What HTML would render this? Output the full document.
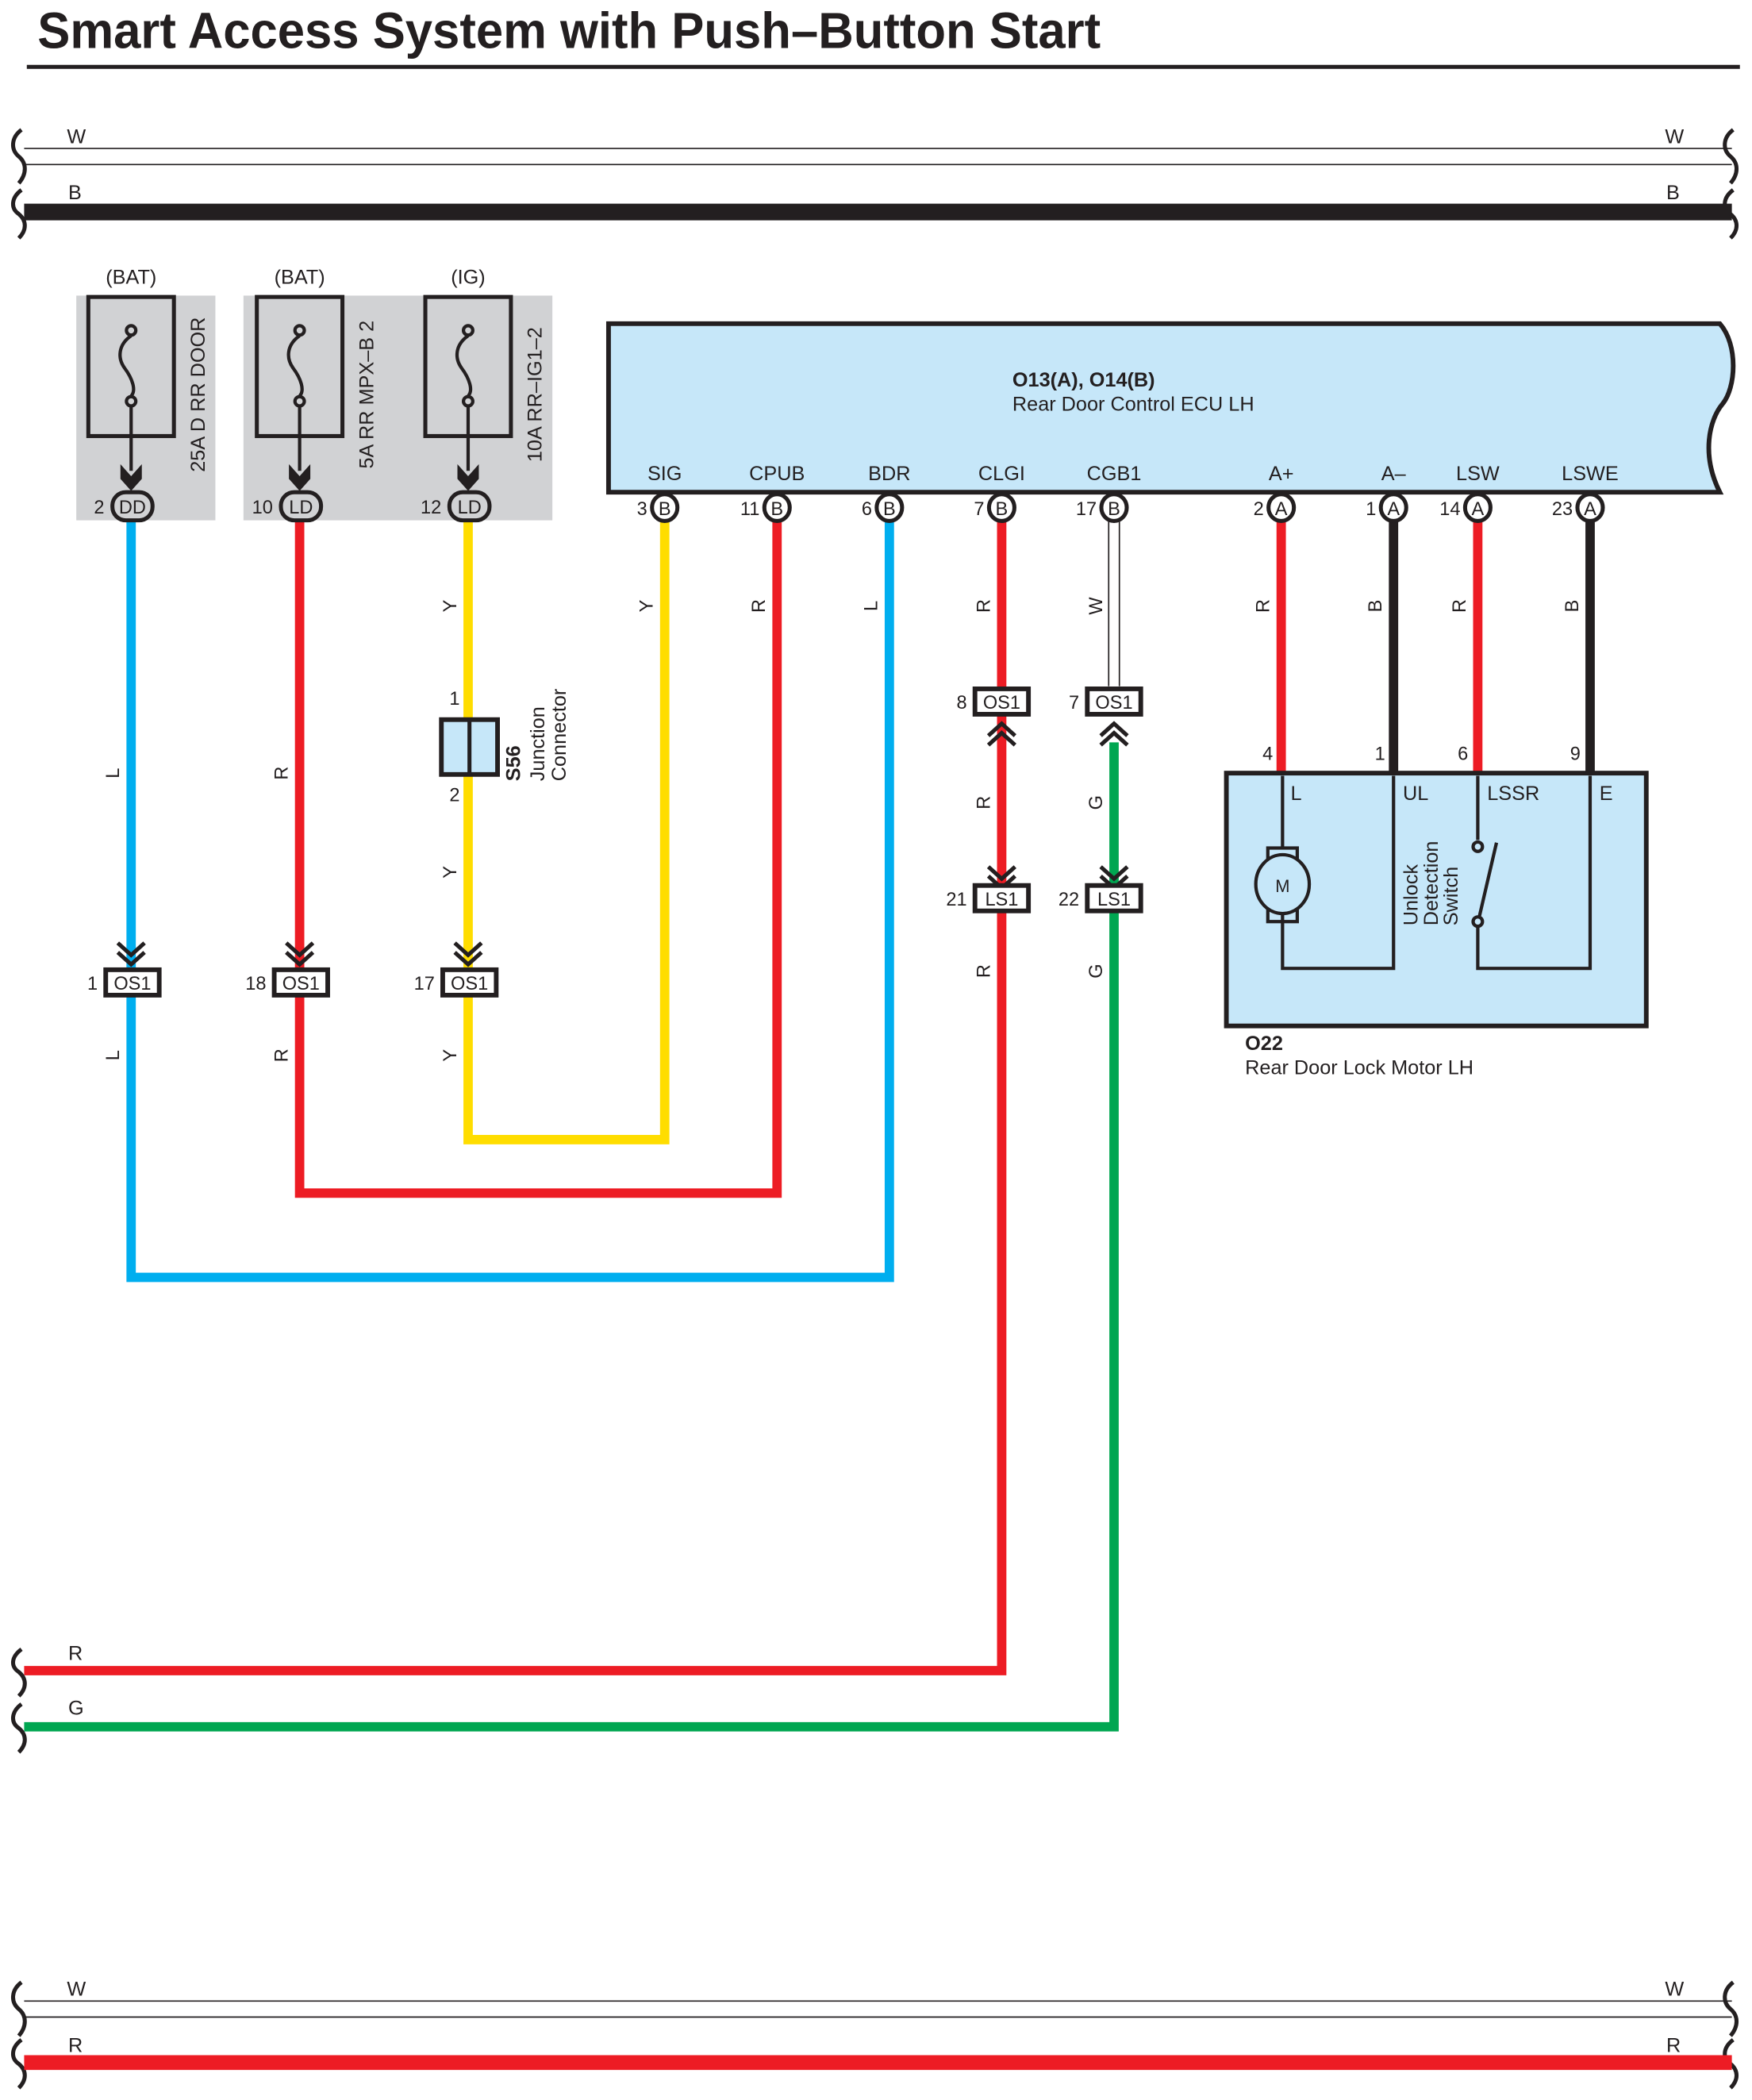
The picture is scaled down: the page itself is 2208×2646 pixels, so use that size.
<!DOCTYPE html>
<html><head><meta charset="utf-8"><style>
html,body{margin:0;padding:0;background:#fff}
svg{display:block}
text{font-family:"Liberation Sans Narrow","Liberation Sans",sans-serif;fill:#231f20}
</style></head><body>
<svg width="2208" height="2646" viewBox="0 0 1310 1570" xmlns="http://www.w3.org/2000/svg">
<rect width="1310" height="1570" fill="#fff"/>
<text x="28" y="36" font-size="38" font-weight="bold" font-family="Liberation Sans, sans-serif" textLength="795" lengthAdjust="spacingAndGlyphs">Smart Access System with Push–Button Start</text>
<rect x="20" y="48.5" width="1281" height="3" fill="#231f20"/>

<!-- top buses -->
<g stroke="#231f20" fill="none">
<line x1="18" y1="111" x2="1295" y2="111" stroke-width="1"/>
<line x1="18" y1="123" x2="1295" y2="123" stroke-width="1"/>
<line x1="18" y1="158.5" x2="1295" y2="158.5" stroke-width="12.5"/>
<path d="M16,97 C8,103 8,112 14,117 C20,122 20,130 14,137" stroke-width="3"/>
<path d="M16,142 C8,148 8,156 14,160 C20,165 20,172 14,178" stroke-width="3"/>
<path d="M1296,97 C1288,103 1288,112 1294,117 C1300,122 1300,130 1294,137" stroke-width="3"/>
<path d="M1296,142 C1288,148 1288,156 1294,160 C1300,165 1300,172 1294,178" stroke-width="3"/>
</g>
<g font-size="15">
<text x="50" y="107">W</text><text x="1245" y="107">W</text>
<text x="51" y="149">B</text><text x="1246" y="149">B</text>
</g>

<!-- fuse block backgrounds -->
<rect x="57" y="221" width="104" height="168" fill="#d1d2d4"/>
<rect x="182" y="221" width="231" height="168" fill="#d1d2d4"/>
<g font-size="15" text-anchor="middle">
<text x="98" y="212">(BAT)</text><text x="224" y="212">(BAT)</text><text x="350" y="212">(IG)</text>
</g>
<g stroke="#231f20" fill="none" stroke-width="3">
<rect x="66" y="222" width="64" height="104"/>
<rect x="192" y="222" width="64" height="104"/>
<rect x="318" y="222" width="64" height="104"/>
</g>
<g id="fz" stroke="#231f20" fill="none" stroke-width="2.5">
<circle cx="98" cy="247" r="3.5"/>
<path d="M98,251 C88,258 88,268 93,275 C99,283 102,292 98,296"/>
<circle cx="98" cy="300" r="3.5"/>
<line x1="98" y1="304" x2="98" y2="352"/>
</g>
<use href="#fz" x="126"/><use href="#fz" x="252"/>
<g fill="#231f20">
<path d="M90,347 L98,356 L106,347 L106,358 L98,367 L90,358Z"/>
<path d="M216,347 L224,356 L232,347 L232,358 L224,367 L216,358Z"/>
<path d="M342,347 L350,356 L358,347 L358,358 L350,367 L342,358Z"/>
</g>
<g font-size="15" text-anchor="middle">
<text transform="translate(153,295) rotate(-90)">25A D RR DOOR</text>
<text transform="translate(279,295) rotate(-90)">5A RR MPX–B 2</text>
<text transform="translate(405,295) rotate(-90)">10A RR–IG1–2</text>
</g>

<!-- ECU -->
<path d="M455,242 L1286,242 C1300,258 1298,290 1288,302 C1278,314 1272,340 1286,368 L455,368 Z" fill="#c6e7f9" stroke="#231f20" stroke-width="3.5"/>
<text x="757" y="289" font-size="15" font-weight="bold">O13(A), O14(B)</text>
<text x="757" y="307" font-size="15">Rear Door Control ECU LH</text>
<g font-size="15" text-anchor="middle">
<text x="497" y="359">SIG</text><text x="581" y="359">CPUB</text><text x="665" y="359">BDR</text>
<text x="749" y="359">CLGI</text><text x="833" y="359">CGB1</text><text x="958" y="359">A+</text>
<text x="1042" y="359">A–</text><text x="1105" y="359">LSW</text><text x="1189" y="359">LSWE</text>
</g>

<!-- wires -->
<g fill="none" stroke-width="7" stroke-linejoin="miter">
<polyline points="98,389 98,955 665,955 665,389" stroke="#00aeef"/>
<polyline points="224,389 224,892 581,892 581,389" stroke="#ed1c24"/>
<polyline points="350,389 350,852 497,852 497,389" stroke="#ffdd00"/>
<polyline points="749,389 749,1249 18,1249" stroke="#ed1c24"/>
<polyline points="833,555 833,1291 18,1291" stroke="#00a651"/>
<line x1="958" y1="389" x2="958" y2="578" stroke="#ed1c24"/>
<line x1="1042" y1="389" x2="1042" y2="578" stroke="#231f20"/>
<line x1="1105" y1="389" x2="1105" y2="578" stroke="#ed1c24"/>
<line x1="1189" y1="389" x2="1189" y2="578" stroke="#231f20"/>
</g>
<g stroke="#231f20" stroke-width="1">
<line x1="829" y1="389" x2="829" y2="513"/><line x1="837" y1="389" x2="837" y2="513"/>
</g>

<!-- fuse-side connectors -->
<g stroke="#231f20" stroke-width="3" fill="#d1d2d4">
<rect x="84" y="368" width="30" height="21" rx="10"/>
<rect x="210" y="368" width="30" height="21" rx="10"/>
<rect x="336" y="368" width="30" height="21" rx="10"/>
</g>
<g font-size="14" text-anchor="middle">
<text x="99" y="384">DD</text><text x="225" y="384">LD</text><text x="351" y="384">LD</text>
</g>
<g font-size="14" text-anchor="end">
<text x="78" y="384">2</text><text x="204" y="384">10</text><text x="330" y="384">12</text>
</g>

<!-- ECU pin circles -->
<g stroke="#231f20" stroke-width="3" fill="#fff">
<ellipse cx="497" cy="379.5" rx="9.5" ry="10"/><ellipse cx="581" cy="379.5" rx="9.5" ry="10"/>
<ellipse cx="665" cy="379.5" rx="9.5" ry="10"/><ellipse cx="749" cy="379.5" rx="9.5" ry="10"/>
<ellipse cx="833" cy="379.5" rx="9.5" ry="10"/><ellipse cx="958" cy="379.5" rx="9.5" ry="10"/>
<ellipse cx="1042" cy="379.5" rx="9.5" ry="10"/><ellipse cx="1105" cy="379.5" rx="9.5" ry="10"/>
<ellipse cx="1189" cy="379.5" rx="9.5" ry="10"/>
</g>
<g font-size="14" text-anchor="middle">
<text x="497" y="385">B</text><text x="581" y="385">B</text><text x="665" y="385">B</text><text x="749" y="385">B</text>
<text x="833" y="385">B</text><text x="958" y="385">A</text><text x="1042" y="385">A</text><text x="1105" y="385">A</text><text x="1189" y="385">A</text>
</g>
<g font-size="14" text-anchor="end">
<text x="484" y="385">3</text><text x="568" y="385">11</text><text x="652" y="385">6</text><text x="736" y="385">7</text>
<text x="820" y="385">17</text><text x="945" y="385">2</text><text x="1029" y="385">1</text><text x="1092" y="385">14</text><text x="1176" y="385">23</text>
</g>

<!-- junction connector S56 -->
<rect x="330" y="538" width="42" height="41" fill="#c6e7f9" stroke="#231f20" stroke-width="3.5"/>
<line x1="351" y1="538" x2="351" y2="579" stroke="#231f20" stroke-width="3"/>
<g font-size="14"><text x="336" y="527">1</text><text x="336" y="599">2</text></g>
<text transform="translate(389,584) rotate(-90)" font-size="15" font-weight="bold">S56</text>
<text transform="translate(407,584) rotate(-90)" font-size="15">Junction</text>
<text transform="translate(423,584) rotate(-90)" font-size="15">Connector</text>

<!-- chevrons -->
<g fill="none" stroke="#231f20" stroke-width="3">
<path d="M88,705 L98,714 L108,705 M88,712 L98,721 L108,712"/>
<path d="M214,705 L224,714 L234,705 M214,712 L224,721 L234,712"/>
<path d="M340,705 L350,714 L360,705 M340,712 L350,721 L360,712"/>
<path d="M739,648 L749,657 L759,648 M739,655 L749,664 L759,655"/>
<path d="M823,648 L833,657 L843,648 M823,655 L833,664 L843,655"/>
<path d="M739,550 L749,541 L759,550 M739,557 L749,548 L759,557"/>
<path d="M823,550 L833,541 L843,550 M823,557 L833,548 L843,557"/>
</g>

<!-- inline connector boxes -->
<g stroke="#231f20" stroke-width="3.5" fill="#fff">
<rect x="79" y="725" width="40" height="19"/><rect x="205" y="725" width="40" height="19"/><rect x="331" y="725" width="40" height="19"/>
<rect x="729" y="515" width="40" height="19"/><rect x="813" y="515" width="40" height="19"/>
<rect x="729" y="662" width="40" height="19"/><rect x="813" y="662" width="40" height="19"/>
</g>
<g font-size="14" text-anchor="middle">
<text x="99" y="740">OS1</text><text x="225" y="740">OS1</text><text x="351" y="740">OS1</text>
<text x="749" y="530">OS1</text><text x="833" y="530">OS1</text>
<text x="749" y="677">LS1</text><text x="833" y="677">LS1</text>
</g>
<g font-size="14" text-anchor="end">
<text x="73" y="740">1</text><text x="199" y="740">18</text><text x="325" y="740">17</text>
<text x="723" y="530">8</text><text x="807" y="530">7</text>
<text x="723" y="677">21</text><text x="807" y="677">22</text>
</g>

<!-- wire color labels -->
<g font-size="14" text-anchor="middle">
<text transform="translate(89,578) rotate(-90)">L</text>
<text transform="translate(89,789) rotate(-90)">L</text>
<text transform="translate(215,578) rotate(-90)">R</text>
<text transform="translate(215,789) rotate(-90)">R</text>
<text transform="translate(341,453) rotate(-90)">Y</text>
<text transform="translate(341,652) rotate(-90)">Y</text>
<text transform="translate(341,789) rotate(-90)">Y</text>
<text transform="translate(488,453) rotate(-90)">Y</text>
<text transform="translate(572,453) rotate(-90)">R</text>
<text transform="translate(656,453) rotate(-90)">L</text>
<text transform="translate(740,453) rotate(-90)">R</text>
<text transform="translate(824,453) rotate(-90)">W</text>
<text transform="translate(740,600) rotate(-90)">R</text>
<text transform="translate(824,600) rotate(-90)">G</text>
<text transform="translate(740,726) rotate(-90)">R</text>
<text transform="translate(824,726) rotate(-90)">G</text>
<text transform="translate(949,453) rotate(-90)">R</text>
<text transform="translate(1033,453) rotate(-90)">B</text>
<text transform="translate(1096,453) rotate(-90)">R</text>
<text transform="translate(1180,453) rotate(-90)">B</text>
</g>

<!-- O22 -->
<rect x="917" y="578" width="314" height="189" fill="#c6e7f9" stroke="#231f20" stroke-width="3.5"/>
<g font-size="14"><text x="944" y="568">4</text><text x="1028" y="568">1</text><text x="1090" y="568">6</text><text x="1174" y="568">9</text></g>
<g font-size="15"><text x="965" y="598">L</text><text x="1049" y="598">UL</text><text x="1112" y="598">LSSR</text><text x="1196" y="598">E</text></g>
<g fill="none" stroke="#231f20" stroke-width="2.5">
<polyline points="959,580 959,634"/>
<polyline points="959,684 959,724 1042,724 1042,580"/>
<rect x="948" y="634" width="22" height="9"/>
<rect x="948" y="680" width="22" height="9"/>
<ellipse cx="959" cy="661" rx="20" ry="22" fill="#c6e7f9"/>
<polyline points="1105,580 1105,628"/>
<circle cx="1105" cy="633" r="3.5"/>
<line x1="1106" y1="686" x2="1119" y2="630"/>
<circle cx="1105" cy="689" r="3.5"/>
<polyline points="1105,693 1105,724 1189,724 1189,580"/>
</g>
<text x="959" y="667" font-size="13" text-anchor="middle">M</text>
<text transform="translate(1060,692) rotate(-90)" font-size="15">Unlock</text>
<text transform="translate(1075,692) rotate(-90)" font-size="15">Detection</text>
<text transform="translate(1090,692) rotate(-90)" font-size="15">Switch</text>
<text x="931" y="785" font-size="15" font-weight="bold">O22</text>
<text x="931" y="803" font-size="15">Rear Door Lock Motor LH</text>

<!-- R/G left brackets -->
<g stroke="#231f20" fill="none" stroke-width="3">
<path d="M16,1233 C8,1239 8,1246 14,1250 C20,1255 20,1262 14,1268"/>
<path d="M16,1274 C8,1280 8,1288 14,1292 C20,1297 20,1304 14,1310"/>
</g>
<g font-size="15"><text x="51" y="1241">R</text><text x="51" y="1282">G</text></g>

<!-- bottom buses -->
<g stroke="#231f20" fill="none">
<line x1="18" y1="1496" x2="1295" y2="1496" stroke-width="1"/>
<line x1="18" y1="1508" x2="1295" y2="1508" stroke-width="1"/>
<path d="M16,1482 C8,1488 8,1497 14,1502 C20,1507 20,1515 14,1522" stroke-width="3"/>
<path d="M16,1525 C8,1531 8,1539 14,1543 C20,1548 20,1555 14,1561" stroke-width="3"/>
<path d="M1296,1482 C1288,1488 1288,1497 1294,1502 C1300,1507 1300,1515 1294,1522" stroke-width="3"/>
<path d="M1296,1525 C1288,1531 1288,1539 1294,1543 C1300,1548 1300,1555 1294,1561" stroke-width="3"/>
</g>
<line x1="18" y1="1542" x2="1295" y2="1542" stroke="#ed1c24" stroke-width="11"/>
<g font-size="15">
<text x="50" y="1492">W</text><text x="1245" y="1492">W</text>
<text x="51" y="1534">R</text><text x="1246" y="1534">R</text>
</g>
</svg>
</body></html>
